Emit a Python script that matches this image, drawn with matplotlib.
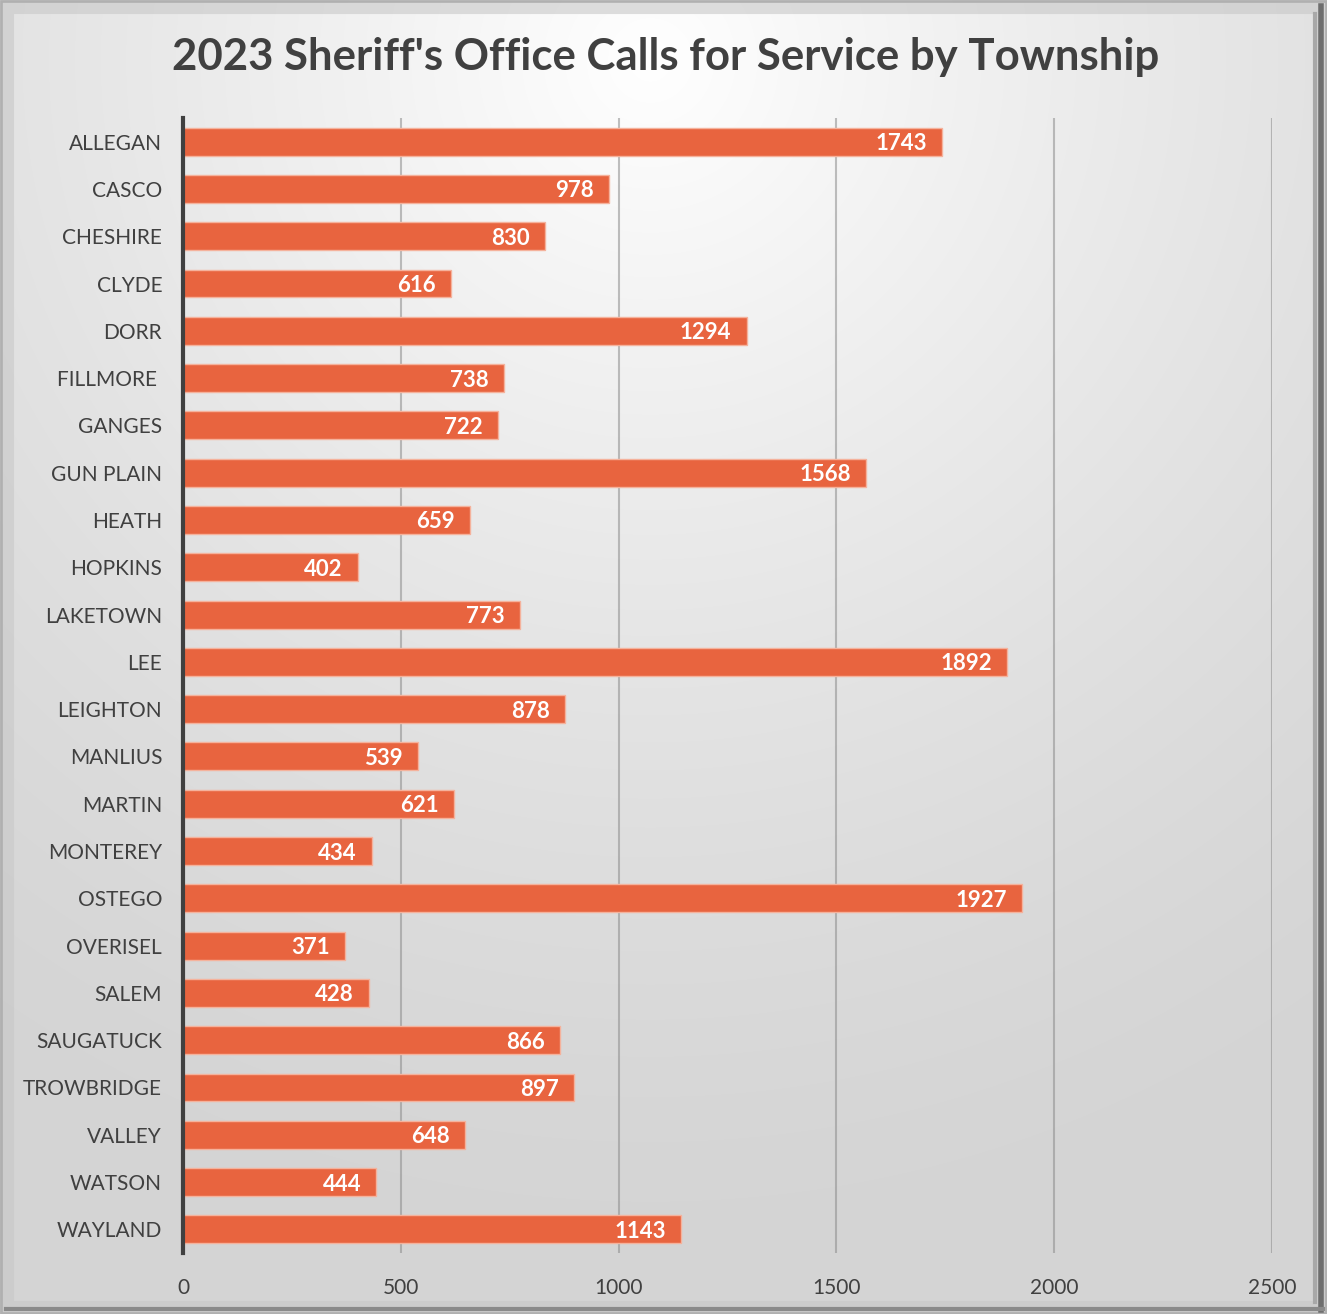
import matplotlib.pyplot as plt
import numpy as np
from matplotlib.patches import Rectangle

plt.rcParams['font.family'] = ['Lato', 'DejaVu Sans']

townships = ['ALLEGAN', 'CASCO', 'CHESHIRE', 'CLYDE', 'DORR', 'FILLMORE ', 'GANGES',
             'GUN PLAIN', 'HEATH', 'HOPKINS', 'LAKETOWN', 'LEE', 'LEIGHTON', 'MANLIUS',
             'MARTIN', 'MONTEREY', 'OSTEGO', 'OVERISEL', 'SALEM', 'SAUGATUCK',
             'TROWBRIDGE', 'VALLEY', 'WATSON', 'WAYLAND']
calls = [1743, 978, 830, 616, 1294, 738, 722, 1568, 659, 402, 773, 1892, 878, 539,
         621, 434, 1927, 371, 428, 866, 897, 648, 444, 1143]
xticks = [0, 500, 1000, 1500, 2000, 2500]

W, H = 1327, 1314
fig = plt.figure(figsize=(W / 100, H / 100), dpi=100)

# background: radial gradient, white near top centre, grey towards the edges
bg = fig.add_axes([0, 0, 1, 1], zorder=-10)
yy, xx = np.mgrid[0:H, 0:W]
d = np.sqrt((xx - 650) ** 2 + ((yy - 60) * 1.0) ** 2)
t = np.clip(d / 1150, 0, 1)
lo, hi = 1.0, 0.835
g = hi + (lo - hi) * (1 - t) ** 1.3
img = np.dstack([g, g, g])
bg.imshow(img, extent=[0, W, H, 0], aspect='auto', interpolation='bilinear')
bg.set_xlim(0, W)
bg.set_ylim(H, 0)
bg.axis('off')

# bevelled frame
bg.add_patch(Rectangle((1, 1), W - 2, H - 2, fill=False, ec='#b0b0b0', lw=2))
bg.add_patch(Rectangle((8, 8), W - 16, H - 16, fill=False, ec='#c8c8c8', lw=8, alpha=0.6))
bg.plot([W - 6, W - 6], [6, H - 4], color='#6e6e6e', lw=4)
bg.plot([6, W - 4], [H - 5, H - 5], color='#8a8a8a', lw=3)
bg.plot([W - 12, W - 12], [14, H - 12], color='#a8a8a8', lw=3)

ax = fig.add_axes([183 / W, 1 - 1253 / H, (1272 - 183) / W, (1253 - 118) / H])
ax.patch.set_alpha(0)
y = np.arange(len(townships))
ax.barh(y, calls, height=0.59, color='#E8643F', edgecolor='#F5B29C', linewidth=1, zorder=3)

for yi, v in zip(y, calls):
    ax.text(v - 35, yi, str(v), ha='right', va='center_baseline', color='white',
            fontsize=16, fontweight='bold', zorder=4)

ax.set_xlim(0, 2500)
ax.set_ylim(len(townships) - 0.5, -0.5)
ax.set_xticks(xticks)
ax.set_xticklabels([str(x) for x in xticks], fontsize=15, color='#404040')
ax.set_yticks(y)
ax.set_yticklabels(townships, fontsize=15, color='#404040')
ax.tick_params(axis='both', length=0)
ax.tick_params(axis='x', pad=18)
ax.tick_params(axis='y', pad=15)
ax.grid(axis='x', color='#8c8c8c', linewidth=1.5, alpha=0.55, zorder=0)
for s in ['top', 'right', 'bottom']:
    ax.spines[s].set_visible(False)
ax.spines['left'].set_color('#404040')
ax.spines['left'].set_linewidth(3)
ax.spines['left'].set_zorder(5)

fig.text(666 / W, 1 - 57 / H, "2023 Sheriff's Office Calls for Service by Township",
         ha='center', va='center', fontsize=31.5, fontweight='bold', color='#404040')

fig.savefig('out.png', dpi=100)
